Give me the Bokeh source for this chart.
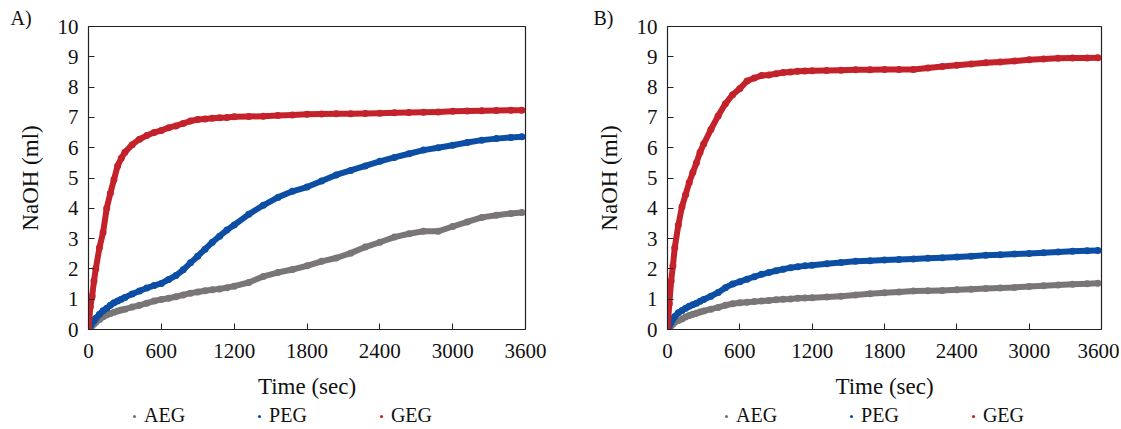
from bokeh.plotting import figure
from bokeh.layouts import row, column
from bokeh.models import Range1d, FixedTicker, Legend, LegendItem
from bokeh.embed import file_html
from bokeh.resources import INLINE

# sampling times (sec)
time_s = [0, 15, 30, 45, 60, 90, 120, 150, 180, 210, 240, 270, 300,
          360, 420, 480, 540, 600, 660, 720, 780, 840, 900, 960, 1020, 1080, 1140, 1200,
          1320, 1440, 1560, 1680, 1800, 1920, 2040, 2160, 2280, 2400, 2520, 2640,
          2760, 2880, 3000, 3120, 3240, 3360, 3480, 3570]

# Panel A (NaOH, ml)
aeg_a = [0, 0.06, 0.12, 0.18, 0.24, 0.33, 0.42, 0.48, 0.53, 0.57, 0.61, 0.64, 0.67,
         0.74, 0.80, 0.87, 0.94, 0.99, 1.03, 1.08, 1.14, 1.20, 1.24, 1.28, 1.31, 1.34, 1.38, 1.43,
         1.55, 1.75, 1.88, 1.98, 2.10, 2.25, 2.36, 2.52, 2.72, 2.88, 3.05, 3.16,
         3.24, 3.24, 3.40, 3.55, 3.70, 3.77, 3.83, 3.86]
peg_a = [0, 0.12, 0.22, 0.30, 0.37, 0.50, 0.62, 0.70, 0.80, 0.88, 0.94, 1.00, 1.06,
         1.17, 1.27, 1.37, 1.45, 1.52, 1.65, 1.78, 1.97, 2.20, 2.42, 2.65, 2.88, 3.08, 3.28, 3.45,
         3.80, 4.10, 4.36, 4.56, 4.70, 4.90, 5.10, 5.25, 5.40, 5.55, 5.68, 5.80,
         5.92, 6.00, 6.08, 6.17, 6.25, 6.30, 6.34, 6.36]
geg_a = [0, 0.75, 1.10, 1.60, 2.00, 2.70, 3.20, 4.00, 4.50, 4.95, 5.40, 5.65, 5.85,
         6.10, 6.28, 6.40, 6.50, 6.57, 6.66, 6.72, 6.80, 6.88, 6.93, 6.95, 6.97, 6.99, 7.00, 7.02,
         7.03, 7.04, 7.06, 7.08, 7.10, 7.11, 7.12, 7.12, 7.13, 7.14, 7.15, 7.16,
         7.17, 7.18, 7.20, 7.21, 7.22, 7.23, 7.24, 7.24]

# Panel B (NaOH, ml)
aeg_b = [0, 0.05, 0.12, 0.18, 0.24, 0.30, 0.35, 0.41, 0.46, 0.50, 0.54, 0.58, 0.61,
         0.67, 0.73, 0.80, 0.85, 0.88, 0.90, 0.92, 0.94, 0.96, 0.98, 1.00, 1.01, 1.03, 1.04, 1.05,
         1.07, 1.10, 1.14, 1.18, 1.21, 1.24, 1.27, 1.28, 1.29, 1.31, 1.33, 1.35,
         1.37, 1.39, 1.42, 1.44, 1.47, 1.49, 1.51, 1.53]
peg_b = [0, 0.12, 0.24, 0.34, 0.43, 0.55, 0.63, 0.70, 0.77, 0.82, 0.87, 0.93, 0.99,
         1.10, 1.22, 1.38, 1.50, 1.58, 1.66, 1.74, 1.82, 1.88, 1.94, 1.99, 2.04, 2.07, 2.10, 2.12,
         2.17, 2.21, 2.25, 2.27, 2.29, 2.31, 2.33, 2.35, 2.37, 2.39, 2.42, 2.45,
         2.47, 2.49, 2.51, 2.53, 2.56, 2.58, 2.60, 2.61]
geg_b = [0, 0.85, 1.60, 2.10, 2.70, 3.45, 4.05, 4.45, 4.85, 5.18, 5.50, 5.85, 6.12,
         6.60, 7.05, 7.45, 7.75, 7.95, 8.20, 8.30, 8.38, 8.40, 8.44, 8.48, 8.50, 8.52, 8.53, 8.54,
         8.55, 8.56, 8.57, 8.57, 8.58, 8.58, 8.58, 8.63, 8.68, 8.72, 8.76, 8.80,
         8.83, 8.86, 8.90, 8.93, 8.95, 8.96, 8.96, 8.97]

series_names = ["AEG", "PEG", "GEG"]
series_colors = ["#7a7677", "#0c4ea3", "#c4222b"]
x_ticks = [0, 600, 1200, 1800, 2400, 3000, 3600]
y_ticks = [0, 1, 2, 3, 4, 5, 6, 7, 8, 9, 10]

FONT = "Liberation Serif"


def make_panel(tag, data, width, bl, br):
    p = figure(width=width, height=405, x_range=Range1d(0, 3600), y_range=Range1d(0, 10),
               output_backend="svg", toolbar_location=None, title=tag,
               min_border_left=bl, min_border_right=br, min_border_top=26, min_border_bottom=76)
    p.background_fill_color = "white"
    p.border_fill_color = "white"
    p.outline_line_color = "#222222"
    p.outline_line_width = 1.2
    p.xgrid.grid_line_color = None
    p.ygrid.grid_line_color = None

    p.title.align = "left"
    p.title.offset = -(bl - 10)
    p.title.standoff = -5
    p.title.text_font = FONT
    p.title.text_font_size = "20px"
    p.title.text_font_style = "normal"
    p.title.text_color = "#111111"

    for ax, ticks in ((p.xaxis[0], x_ticks), (p.yaxis[0], y_ticks)):
        ax.ticker = FixedTicker(ticks=ticks)
        ax.minor_tick_line_color = None
        ax.major_tick_in = 6
        ax.major_tick_out = 0
        ax.major_tick_line_color = "#222222"
        ax.axis_line_color = "#222222"
        ax.major_label_text_font = FONT
        ax.major_label_text_font_size = "21px"
        ax.major_label_text_color = "#111111"
        ax.axis_label_text_font = FONT
        ax.axis_label_text_font_size = "23px"
        ax.axis_label_text_font_style = "normal"
        ax.axis_label_text_color = "#111111"
    p.xaxis.axis_label = "Time (sec)"
    p.yaxis.axis_label = "NaOH (ml)"
    p.xaxis.major_label_standoff = 14
    p.xaxis.axis_label_standoff = 13
    p.yaxis.major_label_standoff = 10
    p.yaxis.axis_label_standoff = 12

    for name, color, ys in zip(series_names, series_colors, data):
        p.line(time_s, ys, line_color=color, line_width=6, line_join="round", line_cap="round")
        p.scatter(time_s, ys, size=7, fill_color=color, line_color=None)
    return p


def make_legend(data, width, bl, br, lx):
    # legend strip: the series are drawn off-range so only the legend entries show
    q = figure(width=width, height=24, x_range=Range1d(-20, -10), y_range=Range1d(-20, -10),
               x_axis_type=None, y_axis_type=None,
               output_backend="svg", toolbar_location=None,
               min_border_left=bl, min_border_right=br, min_border_top=0, min_border_bottom=0)
    q.outline_line_color = None
    q.xgrid.grid_line_color = None
    q.ygrid.grid_line_color = None
    items = []
    for name, color, ys in zip(series_names, series_colors, data):
        r = q.scatter(time_s, ys, size=6, fill_color=color, line_color=None)
        items.append(LegendItem(label=name, renderers=[r]))
    leg = Legend(items=items, orientation="horizontal", location=(lx, 2),
                 glyph_width=8, glyph_height=16, label_standoff=6, spacing=70,
                 padding=0, margin=0, border_line_color=None, background_fill_alpha=0,
                 label_text_font=FONT, label_text_font_size="20px", label_text_color="#111111")
    q.add_layout(leg, "center")
    return q


pa = make_panel("A)", [aeg_a, peg_a, geg_a], 583, 88, 58)
pb = make_panel("B)", [aeg_b, peg_b, geg_b], 536, 84, 18)
la = make_legend([aeg_a, peg_a, geg_a], 583, 88, 58, 42)
lb = make_legend([aeg_b, peg_b, geg_b], 536, 84, 18, 55)

layout = column(row(pa, pb), row(la, lb))
open("out.html", "w").write(file_html(layout, INLINE))
